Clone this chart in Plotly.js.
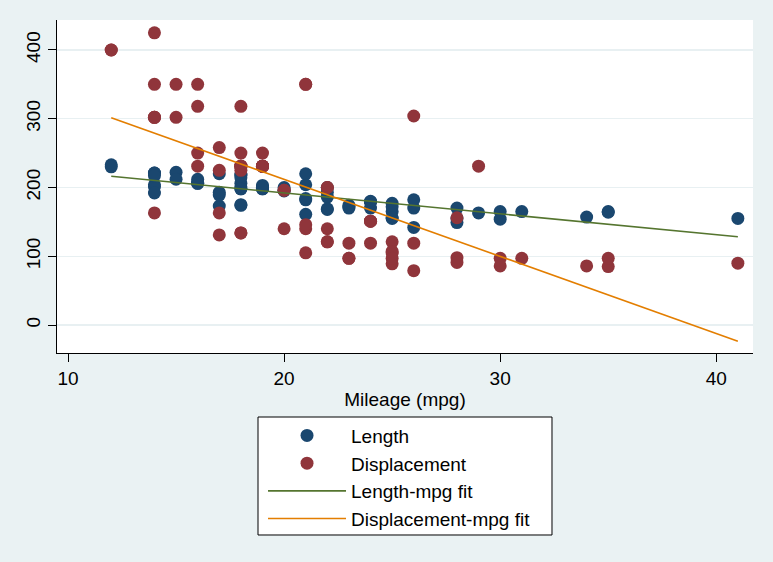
<!DOCTYPE html>
<html>
<head>
<meta charset="utf-8">
<script src="https://cdn.plot.ly/plotly-3.0.1.min.js"></script>
<style>html,body{margin:0;padding:0;background:#eaf2f3;}#chart{width:773px;height:562px;}</style>
</head>
<body>
<div id="chart"></div>
<script>
// Stata auto dataset: mileage, length, displacement
const mpg = [22,17,22,20,15,18,26,20,16,19,14,14,21,29,16,22,22,24,19,30,18,16,17,28,21,12,12,14,22,14,15,18,14,20,21,19,19,18,19,24,16,28,34,25,26,18,18,18,19,19,19,24,17,23,25,23,35,24,21,21,25,28,30,14,26,35,18,31,18,23,41,25,25,17];
const lengthIn = [186,173,168,196,222,218,170,200,207,200,221,204,204,163,212,193,200,179,199,165,206,206,220,155,182,233,230,201,169,221,212,198,217,195,220,198,198,218,200,180,206,170,157,165,182,201,214,198,201,199,203,179,189,174,177,170,165,170,184,161,172,149,154,192,142,164,174,165,175,172,155,155,156,193];
const displacement = [121,258,121,196,350,231,304,196,231,231,425,350,350,231,250,200,200,151,250,97,318,318,225,98,140,400,400,302,140,302,302,250,302,140,350,231,231,231,231,151,350,156,86,105,119,225,231,231,231,231,231,151,131,97,121,119,85,119,146,105,107,91,86,163,79,97,134,97,134,97,90,89,97,163];
const seriesNames = ["Length", "Displacement", "Length-mpg fit", "Displacement-mpg fit"];
const xTicks = [10, 20, 30, 40];
const yTicks = [0, 100, 200, 300, 400];

// least-squares linear fit over the observed mpg range (as Stata's lfit)
function lfit(x, y) {
  const n = x.length;
  const mx = x.reduce((a, b) => a + b, 0) / n;
  const my = y.reduce((a, b) => a + b, 0) / n;
  let sxy = 0, sxx = 0;
  for (let i = 0; i < n; i++) { sxy += (x[i] - mx) * (y[i] - my); sxx += (x[i] - mx) ** 2; }
  const b = sxy / sxx, a = my - b * mx;
  const xmin = Math.min(...x), xmax = Math.max(...x);
  return { x: [xmin, xmax], y: [a + b * xmin, a + b * xmax] };
}
const fitL = lfit(mpg, lengthIn);
const fitD = lfit(mpg, displacement);

const font = "Liberation Sans, Arial, Helvetica, sans-serif";
const traces = [
  { type: "scatter", mode: "markers", x: mpg, y: lengthIn, name: seriesNames[0], legendgroup: "a",
    marker: { color: "#1a476f", size: 13 } },
  { type: "scatter", mode: "markers", x: mpg, y: displacement, name: seriesNames[1], legendgroup: "b",
    marker: { color: "#90353b", size: 13 } },
  { type: "scatter", mode: "lines", x: fitL.x, y: fitL.y, name: seriesNames[2], legendgroup: "c",
    line: { color: "#55752f", width: 1.6 } },
  { type: "scatter", mode: "lines", x: fitD.x, y: fitD.y, name: seriesNames[3], legendgroup: "d",
    line: { color: "#e37e00", width: 1.6 } }
];

const layout = {
  width: 773, height: 562,
  margin: { l: 57, r: 20, t: 20, b: 209 },
  paper_bgcolor: "#eaf2f3",
  plot_bgcolor: "#ffffff",
  font: { family: font, size: 19, color: "#000000" },
  showlegend: true,
  xaxis: {
    range: [9.49, 41.7], tickvals: xTicks, ticks: "outside", ticklen: 8, tickwidth: 1, tickcolor: "#000",
    showgrid: false, zeroline: false, showline: true, linecolor: "#000", linewidth: 1,
    tickfont: { size: 19 },
    title: { text: "Mileage (mpg)", font: { size: 19 }, standoff: 4 }
  },
  yaxis: {
    range: [-40.7, 443.6], tickvals: yTicks, ticks: "outside", ticklen: 8, tickwidth: 1, tickcolor: "#000",
    tickangle: -90, showgrid: true, gridcolor: "#e8f0f2", gridwidth: 1.2,
    zeroline: false, showline: true, linecolor: "#000", linewidth: 1,
    tickfont: { size: 19 }
  },
  legend: {
    x: 0.296, xanchor: "left", y: -0.191, yanchor: "top",
    bgcolor: "rgba(0,0,0,0)", borderwidth: 0,
    traceorder: "grouped", tracegroupgap: 0,
    itemwidth: 78, font: { size: 19 }
  },
  shapes: [
    { type: "rect", xref: "paper", yref: "paper", x0: 0.2888, x1: 0.7112, y0: -0.5465, y1: -0.1922,
      fillcolor: "#ffffff", line: { color: "#000", width: 1 }, layer: "below" }
  ]
};

Plotly.newPlot("chart", traces, layout, { displayModeBar: false, staticPlot: true });
</script>
</body>
</html>
